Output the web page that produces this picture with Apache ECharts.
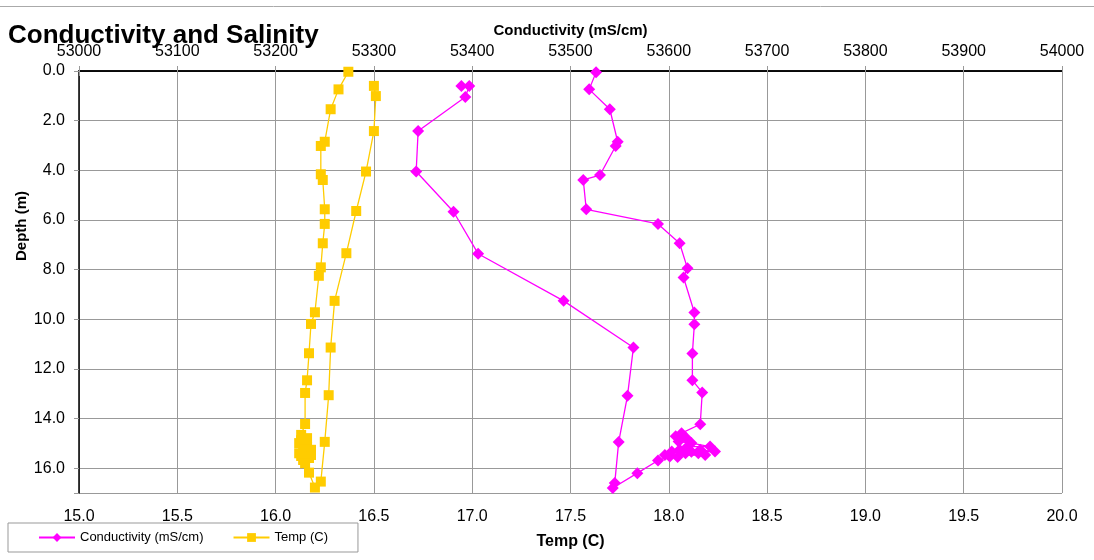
<!DOCTYPE html>
<html>
<head>
<meta charset="utf-8">
<title>Conductivity and Salinity</title>
<script src="https://cdn.jsdelivr.net/npm/echarts@6/dist/echarts.min.js"></script>
<style>
    html, body { margin: 0; padding: 0; background: #fff; }
    #chart1 { width: 1094px; height: 560px; }
</style>
</head>
<body>
<div id="chart1"></div>
<script>
// 电导率 (上轴)  -- down cast, then back up
const condDepth = [0.05, 0.74, 1.54, 2.85, 3.02, 4.19, 4.39, 5.57, 6.16, 6.94, 7.95, 8.32,
    9.73, 10.20, 11.38, 12.46, 12.95, 14.23, 14.59, 14.71, 14.79, 14.93, 14.99, 15.13, 15.13,
    15.26, 15.26, 15.33, 15.34, 15.33, 15.40, 15.40, 15.47, 15.47, 15.55, 15.53, 15.69, 16.20, 16.80,
    16.60, 14.95, 13.08, 11.14, 9.26, 7.36, 5.67, 4.05, 2.42, 1.05, 0.60, 0.60]
const condValues = [53526, 53519, 53540, 53548, 53546, 53530, 53513, 53516, 53589, 53611, 53619, 53615,
    53626, 53626, 53624, 53624, 53634, 53632, 53613, 53607, 53618, 53610, 53623, 53642, 53619,
    53611, 53632, 53647, 53623, 53603, 53617, 53630, 53637, 53596, 53609, 53601, 53589, 53568, 53543,
    53545, 53549, 53558, 53564, 53493, 53406, 53381, 53343, 53345, 53393, 53397, 53389]

// 温度 (下轴)
const tempDepth = [0.03, 0.74, 1.54, 2.85, 3.02, 4.16, 4.39, 5.57, 6.16, 6.94, 7.91, 8.25,
    9.72, 10.19, 11.37, 12.46, 12.97, 14.22, 14.66, 14.79, 14.87, 14.99, 15.14, 15.26, 15.26,
    15.40, 15.47, 15.51, 15.59, 15.67, 15.80, 16.18, 16.78,
    16.54, 14.94, 13.06, 11.14, 9.26, 7.34, 5.64, 4.05, 2.42, 1.01, 0.60]
const tempValues = [16.37, 16.32, 16.28, 16.25, 16.23, 16.23, 16.24, 16.25, 16.25, 16.24, 16.23, 16.22,
    16.20, 16.18, 16.17, 16.16, 16.15, 16.15, 16.13, 16.16, 16.13, 16.12, 16.16, 16.18, 16.14,
    16.12, 16.18, 16.13, 16.17, 16.14, 16.15, 16.17, 16.20,
    16.23, 16.25, 16.27, 16.28, 16.30, 16.36, 16.41, 16.46, 16.50, 16.51, 16.50]

const seriesNames = ['Conductivity (mS/cm)', 'Temp (C)']

const fontFamily = 'Liberation Sans, Arial, sans-serif'
const gridColor = '#999999'

function zip (xs, ys) {
    return xs.map((x, i) => [x, ys[i]])
}

const chart1 = echarts.init(document.getElementById('chart1'))
const option = {
    animation: false,
    backgroundColor: '#fff',
    textStyle: { fontFamily: fontFamily, color: '#000' },
    title: {
        text: 'Conductivity and Salinity',
        left: 8,
        top: 23,
        padding: 0,
        textStyle: { fontSize: 26, fontWeight: 'bold', color: '#000', fontFamily: fontFamily }
    },
    legend: {
        left: 8,
        top: 523,
        padding: [8, 30, 8, 30],
        itemWidth: 36,
        itemHeight: 11,
        itemGap: 29,
        borderColor: '#999',
        borderWidth: 1,
        borderRadius: 0,
        data: seriesNames,
        textStyle: { fontSize: 13, color: '#000', fontFamily: fontFamily }
    },
    grid: {
        left: 79,
        right: 32,
        top: 71,
        bottom: 67,
        containLabel: false
    },
    xAxis: [
        {
            // 温度轴
            type: 'value',
            position: 'bottom',
            min: 15,
            max: 20,
            interval: 0.5,
            name: 'Temp (C)',
            nameLocation: 'middle',
            nameGap: 41,
            nameTextStyle: { fontSize: 16, fontWeight: 'bold', color: '#000' },
            axisLine: { lineStyle: { color: '#000', width: 1.5 } },
            axisTick: { show: true, length: 5, lineStyle: { color: gridColor } },
            axisLabel: {
                fontSize: 16,
                color: '#000',
                margin: 16,
                formatter: (v) => v.toFixed(1)
            },
            splitLine: { show: true, lineStyle: { color: gridColor, width: 1 } }
        },
        {
            // 电导率轴
            type: 'value',
            position: 'top',
            min: 53000,
            max: 54000,
            interval: 100,
            name: 'Conductivity (mS/cm)',
            nameLocation: 'middle',
            nameGap: 33,
            nameTextStyle: { fontSize: 15, fontWeight: 'bold', color: '#000' },
            axisLine: { lineStyle: { color: '#000', width: 1.5 } },
            axisTick: { show: true, length: 5, lineStyle: { color: gridColor } },
            axisLabel: {
                fontSize: 16,
                color: '#000',
                margin: 11,
                formatter: (v) => String(v)
            },
            splitLine: { show: false }
        }
    ],
    yAxis: [
        {
            type: 'value',
            inverse: true,
            min: 0,
            max: 17,
            interval: 2,
            axisLine: { show: true, lineStyle: { color: '#000', width: 1.5 } },
            axisTick: { show: true, length: 5, lineStyle: { color: gridColor } },
            axisLabel: {
                fontSize: 16,
                color: '#000',
                margin: 14,
                formatter: (v) => v > 16.5 ? '' : v.toFixed(1)
            },
            splitLine: { show: true, lineStyle: { color: gridColor, width: 1 } }
        }
    ],
    graphic: [
        {
            type: 'line',
            shape: { x1: 0, y1: 6.5, x2: 1094, y2: 6.5 },
            style: { stroke: '#aaa', lineWidth: 1 }
        },
        {
            type: 'text',
            x: 22,
            y: 226,
            rotation: Math.PI / 2,
            style: {
                text: 'Depth (m)',
                fontSize: 15,
                fontWeight: 'bold',
                fontFamily: fontFamily,
                fill: '#000',
                align: 'center',
                verticalAlign: 'middle'
            }
        }
    ],
    series: [
        {
            name: seriesNames[0],
            type: 'line',
            xAxisIndex: 1,
            yAxisIndex: 0,
            symbol: 'diamond',
            symbolSize: 12,
            color: '#FF00FF',
            lineStyle: { width: 1.3, color: '#FF00FF' },
            itemStyle: { color: '#FF00FF' },
            data: zip(condValues, condDepth)
        },
        {
            name: seriesNames[1],
            type: 'line',
            xAxisIndex: 0,
            yAxisIndex: 0,
            symbol: 'rect',
            symbolSize: 10,
            color: '#FFCC00',
            lineStyle: { width: 1.3, color: '#FFCC00' },
            itemStyle: { color: '#FFCC00' },
            data: zip(tempValues, tempDepth)
        }
    ]
}
chart1.setOption(option)
</script>
</body>
</html>
